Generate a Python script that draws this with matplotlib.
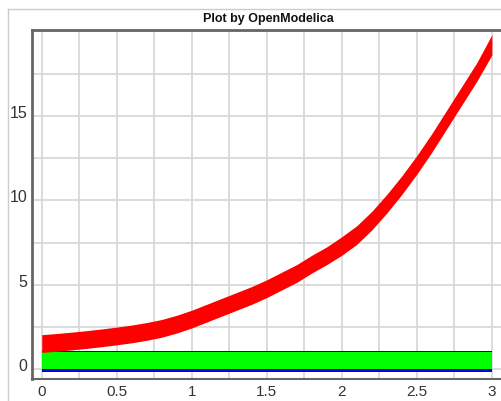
"""
OpenModelica style plot: noisy exponential (red) and two noise bands (blue, green)
"""

import numpy as np
import matplotlib
matplotlib.use("Agg")
import matplotlib.pyplot as plt
from matplotlib.lines import Line2D
from matplotlib.transforms import ScaledTranslation

# time axis (s)
time = [0.0, 0.1, 0.2, 0.3, 0.4, 0.5, 0.6, 0.7, 0.8, 0.9,
        1.0, 1.1, 1.2, 1.3, 1.4, 1.5, 1.6, 1.7, 1.8, 1.9,
        2.0, 2.1, 2.2, 2.3, 2.4, 2.5, 2.6, 2.7, 2.8, 2.9, 3.0]

# red band, lower and upper edge
red_lo = [1.0, 1.07, 1.15, 1.24, 1.34, 1.45, 1.57, 1.72, 1.9, 2.15,
          2.45, 2.8, 3.15, 3.5, 3.85, 4.25, 4.7, 5.15, 5.7, 6.2,
          6.75, 7.4, 8.25, 9.25, 10.35, 11.55, 12.85, 14.25, 15.65, 17.05, 18.6]
red_hi = [2.05, 2.12, 2.2, 2.29, 2.39, 2.5, 2.62, 2.77, 2.95, 3.2,
          3.5, 3.85, 4.2, 4.55, 4.9, 5.3, 5.75, 6.2, 6.75, 7.25,
          7.85, 8.5, 9.35, 10.35, 11.45, 12.65, 13.95, 15.35, 16.75, 18.15, 19.8]

# blue and green noise bands (flat over the whole run)
blue_lo = [-0.13] * len(time)
blue_hi = [1.06] * len(time)
green_lo = [0.0] * len(time)
green_hi = [1.0] * len(time)

x_ticks = [0, 0.5, 1, 1.5, 2, 2.5, 3]
x_tick_labels = ["0", "0.5", "1", "1.5", "2", "2.5", "3"]
y_ticks = [0, 5, 10, 15]
y_tick_labels = ["0", "5", "10", "15"]

plt.rcParams['font.family'] = ['Liberation Sans Narrow', 'Liberation Sans', 'DejaVu Sans']

W, H = 501, 401
fig = plt.figure(figsize=(W / 100, H / 100), dpi=100)
fig.patch.set_facecolor('white')

# axes placed in pixel units
left, right, top, bottom = 32, 501, 30, 379.3
ax = fig.add_axes([left / W, (H - bottom) / H, (right - left) / W, (bottom - top) / H])

ax.fill_between(time, blue_lo, blue_hi, color='#0000e6', linewidth=0, zorder=3)
ax.fill_between(time, green_lo, green_hi, color='#00ff00', linewidth=0, zorder=4)
ax.fill_between(time, red_lo, red_hi, color='#ff0000', linewidth=0, zorder=5)

ax.set_xlim(-0.065, 3.061)
ax.set_ylim(-0.59, 20.08)

ax.set_xticks(x_ticks)
ax.set_xticklabels(x_tick_labels)
ax.set_xticks(np.arange(0, 3.01, 0.25), minor=True)
ax.set_yticks(y_ticks)
ax.set_yticklabels(y_tick_labels)
ax.set_yticks(np.arange(0, 20.01, 2.5), minor=True)

ax.grid(which='both', color='#d6d6d6', linewidth=1.2)
ax.set_axisbelow(True)
ax.tick_params(which='both', length=0)
ax.tick_params(axis='x', pad=4, labelsize=11, labelcolor='#333333')
ax.tick_params(axis='y', pad=3.5, labelsize=11.5, labelcolor='#333333')

# y labels sit a little above their grid line
for lab in ax.get_yticklabels():
    lab.set_transform(lab.get_transform() + ScaledTranslation(0, 0.04, fig.dpi_scale_trans))

for side in ['left', 'top', 'bottom']:
    ax.spines[side].set_color('#666666')
    ax.spines[side].set_linewidth(2)
ax.spines['bottom'].set_linewidth(1.5)
ax.spines['right'].set_visible(False)

# outer light frame
fig.add_artist(Line2D([8 / W, 1], [1 - 9.3 / H, 1 - 9.3 / H], color='#cccccc', linewidth=1, transform=fig.transFigure))
fig.add_artist(Line2D([8 / W, 8 / W], [0, 1 - 9.3 / H], color='#cccccc', linewidth=1, transform=fig.transFigure))

fig.text(268.5 / W, 1 - 19 / H, "Plot by OpenModelica", ha='center', va='center',
         fontsize=9, fontweight='bold', color='#111111')

fig.savefig("out.png", dpi=100)
